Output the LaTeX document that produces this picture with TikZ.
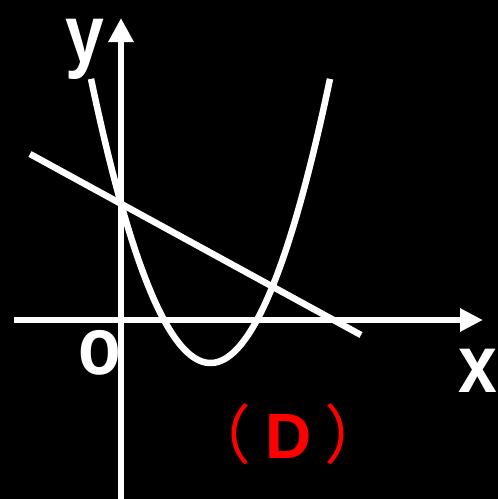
\documentclass[tikz,border=0pt]{standalone}
\usepackage{fontspec}
\setmainfont{Liberation Sans}
\newfontfamily\cjk{Noto Sans CJK SC}
\usetikzlibrary{arrows.meta}
\begin{document}
\begin{tikzpicture}[x=1pt,y=-1pt]
\tikzset{
  curve/.style={draw=white, line width=6.5pt},
  axislab/.style={text=white, inner sep=0pt, anchor=base, xscale=0.85,
    font=\fontsize{82}{82}\selectfont\bfseries},
  redlab/.style={text=red, inner sep=0pt, anchor=base,
    font=\fontsize{64}{64}\selectfont\bfseries},
  redpar/.style={text=red, inner sep=0pt, font=\cjk\fontsize{64}{64}\selectfont}
}
\fill[black] (0,0) rectangle (498,499);
\useasboundingbox (0,0) rectangle (498,499);
\coordinate (ybot) at (121,499);
\coordinate (ytop) at (121,18);
\coordinate (xl) at (14,320);
\coordinate (xr) at (483,320);
\coordinate (la) at (30,154);
\coordinate (lb) at (361,335);
\draw[curve, -{Triangle[length=24pt,width=24pt]}] (ybot) -- (ytop);
\draw[curve, -{Triangle[length=23pt,width=22pt]}] (xl) -- (xr);
\draw[curve] (la) -- (lb);
\draw[curve, domain=91:330, samples=80, smooth] plot (\x, {363-0.0199*(\x-210.5)^2});
\node[axislab] (ylab) at (84.5,62) {y};
\node[axislab] (olab) at (100,374) {o};
\node[axislab] (xlab) at (478,392) {x};
\node[redlab] (D) at (289,458) {D};
\node[redpar, anchor=base east] (lp) at ([xshift=-14pt]D.base west) {（};
\node[redpar, anchor=base west] (rp) at ([xshift=12pt]D.base east) {）};
\end{tikzpicture}
\end{document}
